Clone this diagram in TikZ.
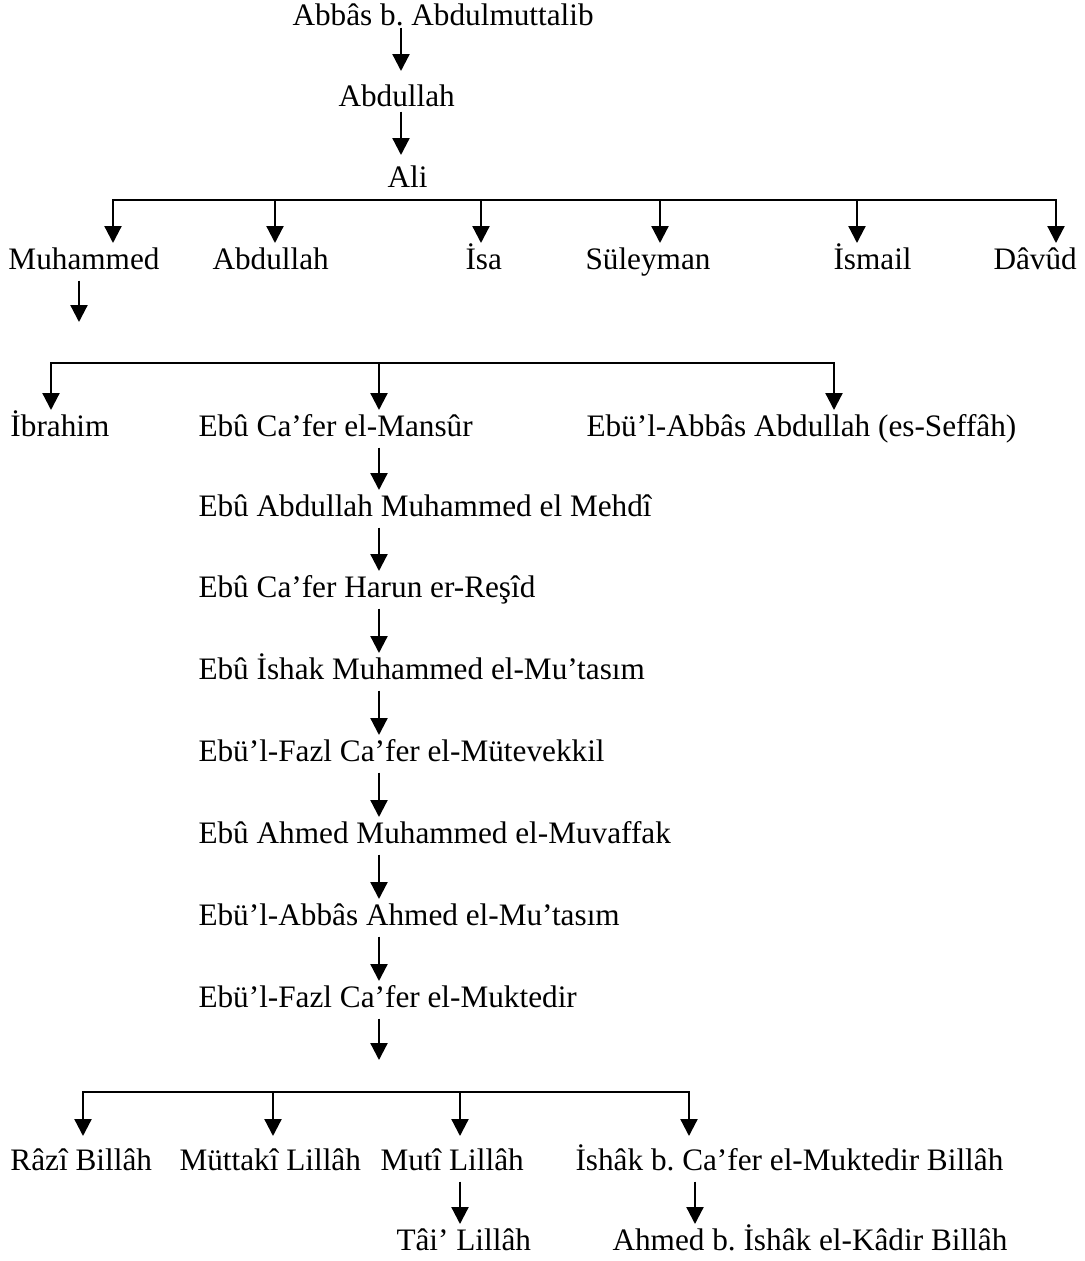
\documentclass[tikz,border=0pt]{standalone}
\usepackage{fontspec}
\setmainfont{Liberation Serif}
\usetikzlibrary{positioning, arrows.meta, calc}
\frenchspacing

\begin{document}
\begin{tikzpicture}[
    x=0.4pt, y=-0.4pt,
    font=\fontsize{12.5}{15}\selectfont,
    person/.style={anchor=base west, inner xsep=0pt, inner ysep=3.2pt, text height=0.7em, text depth=0.12em},
    arrow/.style={->, >={Triangle[width=6.8pt, length=6.8pt]}, line width=0.9pt},
    bar/.style={line width=0.9pt, line cap=rect}
]
    \useasboundingbox (0,0) rectangle (1085,1261);

    % top of the line
    \node[person] (abbas) at (292,25) {Abbâs b. Abdulmuttalib};
    \node[person] (abdullah) at (338,106) {Abdullah};
    \node[person] (ali) at (387,187) {Ali};

    % sons of Ali
    \node[person] (muhammed) at (8,269) {Muhammed};
    \node[person] (abdullahB) at (212,269) {Abdullah};
    \node[person] (isa) at (465,269) {İsa};
    \node[person] (suleyman) at (585,269) {Süleyman};
    \node[person] (ismail) at (833,269) {İsmail};
    \node[person] (davud) at (993,269) {Dâvûd};

    % sons of Muhammed
    \node[person] (ibrahim) at (10,436) {İbrahim};
    \node[person] (mansur) at (198,436) {Ebû Ca’fer el-Mansûr};
    \node[person] (seffah) at (586,436) {Ebü’l-Abbâs Abdullah (es-Seffâh)};

    % the caliphs
    \node[person] (mehdi) at (198,516) {Ebû Abdullah Muhammed el Mehdî};
    \node[person] (resid) at (198,597) {Ebû Ca’fer Harun er-Reşîd};
    \node[person] (mutasim) at (198,679) {Ebû İshak Muhammed el-Mu’tasım};
    \node[person] (mutevekkil) at (198,761) {Ebü’l-Fazl Ca’fer el-Mütevekkil};
    \node[person] (muvaffak) at (198,843) {Ebû Ahmed Muhammed el-Muvaffak};
    \node[person] (mutasimB) at (198,925) {Ebü’l-Abbâs Ahmed el-Mu’tasım};
    \node[person] (muktedir) at (198,1007) {Ebü’l-Fazl Ca’fer el-Muktedir};

    % sons of Muktedir
    \node[person] (razi) at (10,1170) {Râzî Billâh};
    \node[person] (muttaki) at (179,1170) {Müttakî Lillâh};
    \node[person] (muti) at (380,1170) {Mutî Lillâh};
    \node[person] (ishak) at (575,1170) {İshâk b. Ca’fer el-Muktedir Billâh};
    \node[person] (tai) at (396,1250) {Tâi’ Lillâh};
    \node[person] (kadir) at (612,1250) {Ahmed b. İshâk el-Kâdir Billâh};

    % columns of the arrows
    \coordinate (colTop) at (401,0);
    \coordinate (colMuh) at (79,0);
    \coordinate (colChain) at (379,0);
    \coordinate (colTai) at (460,0);
    \coordinate (colKadir) at (695,0);
    \coordinate (endMuh) at (79,322);
    \coordinate (endMuk) at (379,1060);

    \draw[arrow, shorten <=-3.6pt, shorten >=3.6pt] (abbas.south -| colTop) -- (abdullah.north -| colTop);
    \draw[arrow, shorten <=-2.4pt, shorten >=2.4pt] (abdullah.south -| colTop) -- (ali.north -| colTop);

    % Ali to his sons
    \coordinate (barAli) at ($(ali.base)+(0,13)$);
    \draw[bar] (113,0 |- barAli) -- (1056,0 |- barAli);
    \foreach \kid/\x in {muhammed/113, abdullahB/275, isa/481, suleyman/660, ismail/857, davud/1056}
        \draw[arrow] (\x,0 |- barAli) -- (\x,0 |- \kid.north);

    % Muhammed to his sons
    \draw[arrow] (muhammed.south -| colMuh) -- (endMuh);
    \coordinate (barMuh) at (0,363);
    \draw[bar] (51,0 |- barMuh) -- (834,0 |- barMuh);
    \foreach \kid/\x in {ibrahim/51, mansur/379, seffah/834}
        \draw[arrow] (\x,0 |- barMuh) -- (\x,0 |- \kid.north);

    % down the chain
    \draw[arrow] (mansur.south -| colChain) -- (mehdi.north -| colChain);
    \draw[arrow] (mehdi.south -| colChain) -- (resid.north -| colChain);
    \draw[arrow] (resid.south -| colChain) -- (mutasim.north -| colChain);
    \draw[arrow] (mutasim.south -| colChain) -- (mutevekkil.north -| colChain);
    \draw[arrow] (mutevekkil.south -| colChain) -- (muvaffak.north -| colChain);
    \draw[arrow] (muvaffak.south -| colChain) -- (mutasimB.north -| colChain);
    \draw[arrow] (mutasimB.south -| colChain) -- (muktedir.north -| colChain);
    \draw[arrow] (muktedir.south -| colChain) -- (endMuk);

    % Muktedir to his sons
    \coordinate (barMuk) at (0,1092);
    \draw[bar] (83,0 |- barMuk) -- (689,0 |- barMuk);
    \foreach \kid/\x in {razi/83, muttaki/273, muti/460, ishak/689}
        \draw[arrow, shorten >=3.2pt] (\x,0 |- barMuk) -- (\x,0 |- \kid.north);

    \draw[arrow] (muti.south -| colTai) -- (tai.north -| colTai);
    \draw[arrow] (ishak.south -| colKadir) -- (kadir.north -| colKadir);
\end{tikzpicture}
\end{document}
